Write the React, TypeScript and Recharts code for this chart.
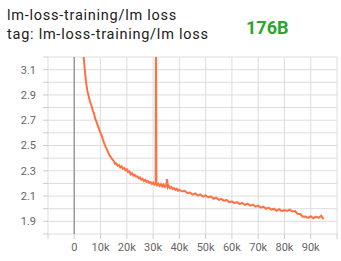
import { LineChart, Line, XAxis, YAxis, CartesianGrid, ReferenceLine } from 'recharts';

const title = 'lm-loss-training/lm loss';
const tag = 'tag: lm-loss-training/lm loss';
const badge = '176B';

// training step, in thousands
const stepsK = [
  3.0, 3.5, 4.0, 4.5, 5.0, 5.5, 6.0, 6.5, 7.0, 7.5, 8.0, 8.5, 9.0, 9.5, 10.0,
  10.5, 11.0, 11.5, 12.0, 12.5, 13.0, 13.5, 14.0, 14.5, 15.0, 15.5, 16.0, 16.5,
  17.0, 17.5, 18.0, 18.5, 19.0, 19.5, 20.0, 20.5, 21.0, 21.5, 22.0, 22.5, 23.0,
  23.5, 24.0, 24.5, 25.0, 25.5, 26.0, 26.5, 27.0, 27.5, 28.0, 28.5, 29.0, 29.5,
  30.0, 30.5, 31.0, 31.1, 31.25, 31.5, 32.0, 32.5, 33.0, 33.5, 34.0, 34.5, 35.0,
  35.3, 35.6, 36.0, 36.5, 37.0, 37.5, 38.0, 38.5, 39.0, 39.5, 40.0,
  41, 42, 43, 44, 45, 46, 47, 48, 49, 50, 51, 52, 53, 54, 55, 56, 57, 58, 59, 60,
  61, 62, 63, 64, 65, 66, 67, 68, 69, 70, 71, 72, 73, 74, 75, 76, 77, 78, 79, 80,
  81, 82, 83, 84, 85, 86, 87, 88, 89, 90, 91, 92, 93, 94, 94.5, 95,
];

const loss = [
  3.42, 3.22, 3.1, 3.0, 2.93, 2.89, 2.845, 2.82, 2.78, 2.755, 2.71, 2.685, 2.655, 2.625, 2.6,
  2.575, 2.54, 2.51, 2.485, 2.465, 2.44, 2.42, 2.405, 2.39, 2.378, 2.355, 2.358, 2.34,
  2.345, 2.326, 2.335, 2.316, 2.322, 2.304, 2.312, 2.29, 2.295, 2.272, 2.28, 2.262, 2.268,
  2.254, 2.256, 2.242, 2.248, 2.23, 2.238, 2.22, 2.228, 2.212, 2.218, 2.204, 2.21, 2.196,
  2.206, 2.19, 2.2, 3.7, 2.2, 2.186, 2.198, 2.18, 2.194, 2.176, 2.19, 2.172, 2.185,
  2.235, 2.168, 2.18, 2.162, 2.172, 2.155, 2.163, 2.15, 2.158, 2.142, 2.15,
  2.136, 2.142, 2.124, 2.128, 2.112, 2.121, 2.104, 2.113, 2.096, 2.106, 2.089, 2.098, 2.079, 2.088, 2.07, 2.078, 2.062, 2.069, 2.051, 2.058,
  2.044, 2.052, 2.036, 2.046, 2.03, 2.04, 2.024, 2.032, 2.016, 2.024, 2.008, 2.016, 1.999, 2.008, 1.992, 2.0, 1.984, 1.996, 1.981, 1.99,
  1.982, 1.992, 1.979, 1.982, 1.96, 1.958, 1.936, 1.938, 1.928, 1.94, 1.925, 1.937, 1.928, 1.944, 1.926, 1.92,
];

const xTicks = [-10, 0, 10, 20, 30, 40, 50, 60, 70, 80, 90, 100];
const yTicks = [1.8, 1.9, 2.0, 2.1, 2.2, 2.3, 2.4, 2.5, 2.6, 2.7, 2.8, 2.9, 3.0, 3.1, 3.2];

const data = stepsK.map((s, i) => ({ step: s, loss: loss[i] }));

const fmtX = (v: number) => {
  if (v === 0) return '0';
  if (v < 0 || v >= 100) return '';
  return `${v}k`;
};

const fmtY = (v: number) => (Math.round(v * 10) % 2 === 1 ? v.toFixed(1) : '');

export default function App() {
  return (
    <div
      style={{
        position: 'absolute',
        left: 0,
        top: 0,
        width: 341,
        height: 261,
        background: '#fff',
        fontFamily: 'Roboto, sans-serif',
      }}
    >
      <div
        style={{
          position: 'absolute',
          left: 7,
          top: 6,
          fontSize: 14.5,
          letterSpacing: 0.75,
          lineHeight: '19px',
          color: '#212121',
          whiteSpace: 'nowrap',
        }}
      >
        <div>{title}</div>
        <div>{tag}</div>
      </div>
      <div
        style={{
          position: 'absolute',
          left: 246,
          top: 19,
          fontSize: 18,
          lineHeight: '18px',
          fontWeight: 700,
          color: '#2ca52c',
        }}
      >
        {badge}
      </div>
      <LineChart
        width={341}
        height={261}
        data={data}
        margin={{ top: 57, right: 4, bottom: 0, left: 0 }}
      >
        <CartesianGrid stroke="#ddd" />
        <XAxis
          dataKey="step"
          type="number"
          domain={[-10, 100]}
          ticks={xTicks}
          tickFormatter={fmtX}
          height={27}
          axisLine={false}
          tickSize={5}
          tickMargin={4}
          tickLine={{ stroke: '#ccc' }}
          tick={{ fill: '#666', fontSize: 11 }}
          interval={0}
        />
        <YAxis
          type="number"
          domain={[1.8, 3.2]}
          allowDataOverflow
          ticks={yTicks}
          tickFormatter={fmtY}
          width={48}
          axisLine={false}
          tickSize={5}
          tickMargin={7}
          tickLine={{ stroke: '#ccc' }}
          tick={{ fill: '#666', fontSize: 11 }}
          interval={0}
        />
        <ReferenceLine x={0} stroke="#999" strokeWidth={1.5} />
        <Line
          type="linear"
          dataKey="loss"
          stroke="#ff7043"
          strokeWidth={2}
          dot={false}
          isAnimationActive={false}
        />
      </LineChart>
    </div>
  );
}
